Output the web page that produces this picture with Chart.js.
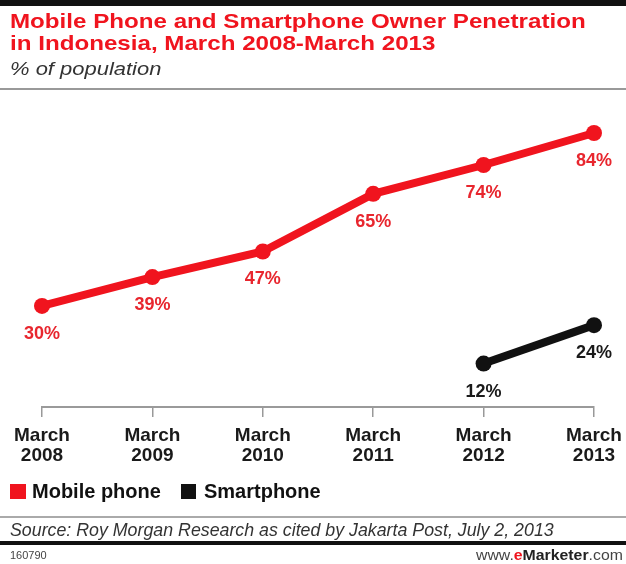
<!DOCTYPE html>
<html><head><meta charset="utf-8">
<script src="https://cdn.jsdelivr.net/npm/chart.js@4.4.1/dist/chart.umd.min.js"></script>
<style>
html,body{margin:0;padding:0;background:#fff;}
#wrap{position:relative;width:626px;height:564px;overflow:hidden;font-family:"Liberation Sans",Arial,sans-serif;}
canvas{position:absolute;left:0;top:0;}
.abs{position:absolute;white-space:nowrap;transform-origin:0 0;}
</style></head>
<body>
<div id="wrap">
<canvas id="c" width="626" height="564"></canvas>
<div class="abs" style="left:0;top:0;width:626px;height:6px;background:#111;"></div>
<div class="abs" style="left:10px;top:10px;color:#f0141e;font-weight:bold;font-size:21px;line-height:22px;transform:scaleX(1.15);">Mobile Phone and Smartphone Owner Penetration<br>in Indonesia, March 2008-March 2013</div>
<div class="abs" style="left:10px;top:58px;color:#333;font-style:italic;font-size:18px;line-height:22px;transform:scaleX(1.22);">% of population</div>
<div class="abs" style="left:0;top:88px;width:626px;height:2px;background:#999;"></div>
<div class="abs" style="left:10px;top:484px;width:16px;height:15px;background:#f0141e;"></div>
<div class="abs" style="left:32px;top:480px;color:#111;font-weight:bold;font-size:20px;line-height:22px;">Mobile phone</div>
<div class="abs" style="left:181px;top:484px;width:15px;height:15px;background:#111;"></div>
<div class="abs" style="left:204px;top:480px;color:#111;font-weight:bold;font-size:20px;line-height:22px;">Smartphone</div>
<div class="abs" style="left:0;top:516px;width:626px;height:2px;background:#aaa;"></div>
<div class="abs" style="left:10px;top:520px;color:#333;font-style:italic;font-size:18px;line-height:20px;transform:scaleX(0.988);">Source: Roy Morgan Research as cited by Jakarta Post, July 2, 2013</div>
<div class="abs" style="left:0;top:541px;width:626px;height:4px;background:#111;"></div>
<div class="abs" style="left:10px;top:548px;color:#444;font-size:11px;line-height:14px;">160790</div>
<div class="abs" style="left:476px;top:548px;color:#444;font-size:14px;line-height:14px;transform:scaleX(1.13);">www.<span style="color:#f0141e;font-weight:bold;">e</span><b style="color:#222;">Marketer</b>.com</div>
</div>
<script>
const categories = [["March","2008"],["March","2009"],["March","2010"],["March","2011"],["March","2012"],["March","2013"]];
const mobilePhone = [30, 39, 47, 65, 74, 84];
const smartphone = [null, null, null, null, 12, 24];
const RED = '#f0141e';
const BLACK = '#111111';

const labelPlugin = {
  id: 'pointLabels',
  afterDatasetsDraw(chart) {
    const ctx = chart.ctx;
    ctx.save();
    ctx.font = 'bold 18px "Liberation Sans", Arial, sans-serif';
    ctx.textAlign = 'center';
    ctx.textBaseline = 'middle';
    chart.data.datasets.forEach((ds, di) => {
      const meta = chart.getDatasetMeta(di);
      ctx.fillStyle = di === 0 ? '#e8262e' : '#1a1a1a';
      meta.data.forEach((pt, i) => {
        const v = ds.data[i];
        if (v === null || v === undefined) return;
        ctx.fillText(v + '%', pt.x, pt.y + 28);
      });
    });
    ctx.restore();
  }
};

new Chart(document.getElementById('c'), {
  type: 'line',
  data: {
    labels: categories,
    datasets: [
      { label: 'Mobile phone', data: mobilePhone, borderColor: RED, backgroundColor: RED, borderWidth: 8, pointRadius: 8, pointBackgroundColor: RED, pointBorderWidth: 0, clip: false, tension: 0 },
      { label: 'Smartphone', data: smartphone, borderColor: BLACK, backgroundColor: BLACK, borderWidth: 8, pointRadius: 8, pointBackgroundColor: BLACK, pointBorderWidth: 0, clip: false, spanGaps: false, tension: 0 }
    ]
  },
  options: {
    responsive: false,
    animation: false,
    devicePixelRatio: 1,
    layout: { padding: { top: 100, left: 42, right: 32, bottom: 87 } },
    plugins: { legend: { display: false }, tooltip: { enabled: false } },
    scales: {
      y: { display: false, min: -1.56, max: 94.3 },
      x: {
        offset: false,
        afterFit: (s) => { s.height = 70; s.paddingLeft = 0; s.paddingRight = 0; },
        grid: { drawOnChartArea: false, drawTicks: true, tickLength: 10, color: '#999', lineWidth: 1.5 },
        border: { display: true, color: '#9a9a9a', width: 2 },
        ticks: { color: '#1a1a1a', padding: 9, maxRotation: 0, autoSkip: false, font: { family: '"Liberation Sans", Arial, sans-serif', weight: 'bold', size: 19, lineHeight: 1.03 } }
      }
    }
  },
  plugins: [labelPlugin]
});
</script>
</body></html>
